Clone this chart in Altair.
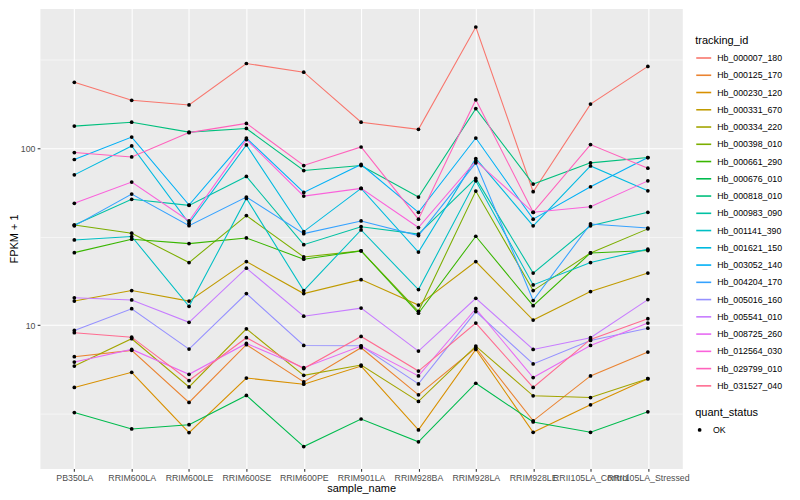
import altair as alt
import pandas as pd

samples = ["PB350LA", "RRIM600LA", "RRIM600LE", "RRIM600SE", "RRIM600PE",
           "RRIM901LA", "RRIM928BA", "RRIM928LA", "RRIM928LE",
           "RRII105LA_Control", "RRII105LA_Stressed"]

tracking_ids = ["Hb_000007_180", "Hb_000125_170", "Hb_000230_120", "Hb_000331_670",
                "Hb_000334_220", "Hb_000398_010", "Hb_000661_290", "Hb_000676_010",
                "Hb_000818_010", "Hb_000983_090", "Hb_001141_390", "Hb_001621_150",
                "Hb_003052_140", "Hb_004204_170", "Hb_005016_160", "Hb_005541_010",
                "Hb_008725_260", "Hb_012564_030", "Hb_029799_010", "Hb_031527_040"]

colors = ["#F8766D", "#EA8331", "#D89000", "#C09B00", "#A3A500", "#7CAE00", "#39B600",
          "#00BB4E", "#00BF7D", "#00C1A3", "#00BFC4", "#00BAE0", "#00B0F6", "#35A2FF",
          "#9590FF", "#C77CFF", "#E76BF3", "#FA62DB", "#FF62BC", "#FF6C91"]

# FPKM + 1 per sample (order of `samples`)
hb_000007_180 = [235, 186, 175, 300, 268, 140, 127.5, 482, 56.7, 177, 289]
hb_000125_170 = [6.65, 7.22, 3.67, 7.77, 4.79, 7.47, 4.05, 7.47, 2.89, 5.18, 7.06]
hb_000230_120 = [4.46, 5.43, 2.48, 5.04, 4.65, 5.89, 2.57, 7.31, 2.49, 3.56, 5.00]
hb_000331_670 = [13.7, 15.7, 13.7, 22.9, 15.1, 18.1, 13.0, 22.9, 10.7, 15.5, 19.7]
hb_000334_220 = [5.89, 8.40, 4.49, 9.56, 5.22, 5.97, 3.72, 7.63, 4.00, 3.91, 5.00]
hb_000398_010 = [36.8, 33.1, 22.6, 41.6, 24.3, 26.3, 12.0, 57.2, 15.7, 25.6, 35.0]
hb_000661_290 = [25.7, 30.6, 28.9, 31.1, 23.6, 26.3, 11.7, 31.8, 12.9, 25.6, 26.4]
hb_000676_010 = [3.22, 2.60, 2.75, 4.02, 2.07, 2.96, 2.20, 4.71, 2.85, 2.49, 3.25]
hb_000818_010 = [133, 140, 123, 129, 74.7, 79.7, 52.9, 167, 62.6, 82.5, 88.4]
hb_000983_090 = [36.8, 51.4, 47.5, 69.2, 28.5, 36.0, 32.7, 67.4, 19.7, 36.4, 43.4]
hb_001141_390 = [30.3, 31.7, 12.8, 52.0, 15.7, 34.5, 15.9, 65.3, 16.9, 22.6, 26.9]
hb_001621_150 = [70.6, 102.8, 37.6, 104.1, 33.8, 59.2, 25.9, 87.3, 36.4, 79.3, 57.4]
hb_003052_140 = [86.2, 115.4, 47.7, 113.9, 56.2, 80.8, 43.4, 113.9, 39.7, 60.5, 88.4]
hb_004204_170 = [36.4, 55.0, 36.5, 52.9, 32.9, 38.8, 32.1, 82.5, 13.8, 37.3, 35.4]
hb_005016_160 = [9.35, 12.4, 7.34, 15.1, 7.70, 7.66, 4.67, 11.95, 6.05, 8.21, 9.63]
hb_005541_010 = [14.3, 13.9, 10.4, 21.0, 11.25, 12.5, 7.15, 14.2, 7.31, 8.51, 13.96]
hb_008725_260 = [6.20, 7.31, 5.29, 7.90, 5.77, 7.63, 5.18, 12.4, 5.07, 7.70, 10.3]
hb_012564_030 = [48.8, 64.3, 38.8, 111.6, 53.6, 59.2, 35.6, 84.6, 43.4, 46.7, 65.3]
hb_029799_010 = [94.3, 89.1, 122.2, 137.8, 79.7, 101.4, 39.7, 187.3, 43.4, 104.6, 77.0]
hb_031527_040 = [9.08, 8.57, 4.88, 8.51, 5.70, 8.65, 5.52, 10.3, 4.46, 8.32, 10.9]

series_values = [hb_000007_180, hb_000125_170, hb_000230_120, hb_000331_670,
                 hb_000334_220, hb_000398_010, hb_000661_290, hb_000676_010,
                 hb_000818_010, hb_000983_090, hb_001141_390, hb_001621_150,
                 hb_003052_140, hb_004204_170, hb_005016_160, hb_005541_010,
                 hb_008725_260, hb_012564_030, hb_029799_010, hb_031527_040]

major_breaks = [10, 100]
minor_breaks = [3.1623, 31.623, 316.23]

rows = []
for tid, vals in zip(tracking_ids, series_values):
    for s, v in zip(samples, vals):
        rows.append({"sample_name": s, "tracking_id": tid, "fpkm": v, "quant_status": "OK"})
df = pd.DataFrame(rows)

FONT = "Liberation Sans"
is_major = "datum.value == 10 || datum.value == 100"

x_enc = alt.X("sample_name:N", sort=samples,
              scale=alt.Scale(type="point", padding=0.6),
              axis=alt.Axis(title="sample_name", labelAngle=0, labelOverlap=False,
                            labelLimit=0, domain=False, grid=True, gridColor="white",
                            gridWidth=1.07, tickColor="#333333", tickSize=2.75,
                            tickWidth=1.07, labelColor="#4D4D4D", labelFontSize=8.8,
                            labelPadding=2.2, titleFontSize=11, titleColor="black",
                            titleFontWeight="normal", titlePadding=0))

y_enc = alt.Y("fpkm:Q",
              scale=alt.Scale(type="log", domain=[1.557, 612], nice=False),
              axis=alt.Axis(title="FPKM + 1", values=sorted(major_breaks + minor_breaks),
                            labelExpr="datum.value == 10 ? '10' : (datum.value == 100 ? '100' : '')",
                            domain=False, grid=True, gridColor="white",
                            gridWidth={"condition": {"test": is_major, "value": 1.07}, "value": 0.53},
                            tickColor={"condition": {"test": is_major, "value": "#333333"}, "value": "transparent"},
                            tickSize=2.75, tickWidth=1.07, labelColor="#4D4D4D",
                            labelFontSize=8.8, labelPadding=2.2, titleFontSize=11,
                            titleColor="black", titleFontWeight="normal", titlePadding=1))

lines = alt.Chart(df).mark_line(strokeWidth=1.07).encode(
    x=x_enc, y=y_enc,
    color=alt.Color("tracking_id:N", sort=tracking_ids,
                    scale=alt.Scale(domain=tracking_ids, range=colors),
                    legend=alt.Legend(title="tracking_id", orient="none", legendX=657, legendY=26,
                                      symbolType="stroke", symbolSize=225, symbolStrokeWidth=1.6,
                                      labelFontSize=8.8, labelColor="black", labelOffset=5,
                                      titleFontSize=11, titleFontWeight="normal", titleColor="black",
                                      titlePadding=4, rowPadding=3.3, padding=0)),
)

points = alt.Chart(df).mark_point(filled=True, size=14, opacity=1, color="black").encode(
    x=x_enc, y=y_enc,
    shape=alt.Shape("quant_status:N", scale=alt.Scale(range=["circle"]),
                    legend=alt.Legend(title="quant_status", orient="none", legendX=657, legendY=399,
                                      symbolSize=14, symbolFillColor="black", symbolStrokeColor="black",
                                      labelFontSize=8.8, labelColor="black", labelOffset=9,
                                      titleFontSize=11, titleFontWeight="normal", titleColor="black",
                                      titlePadding=8, padding=0)),
)

chart = alt.layer(lines, points).properties(
    width=644, height=461, autosize="none",
    padding={"left": 32, "top": 0, "right": 110, "bottom": 30},
).configure(font=FONT).configure_view(fill="#EBEBEB", stroke="transparent")

chart.save("out.html", embed_options={"renderer": "svg", "actions": False})
